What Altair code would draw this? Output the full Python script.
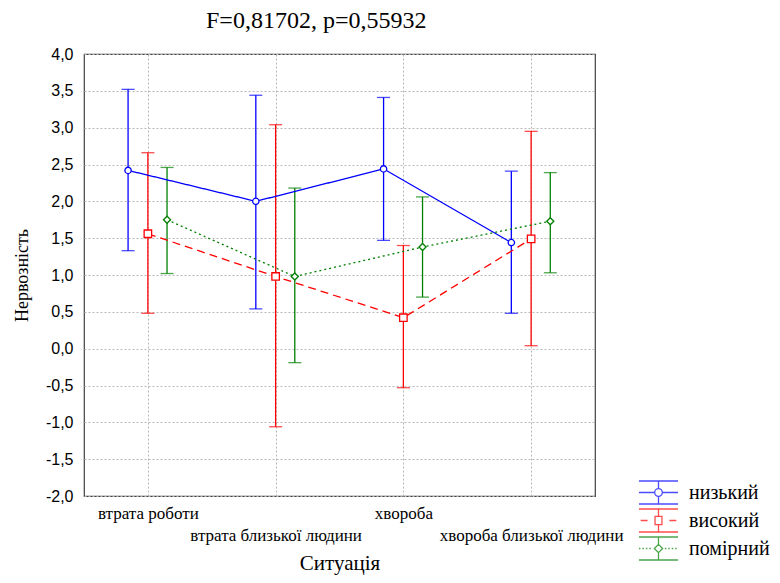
import altair as alt
import pandas as pd

# ---- data ----
categories = ["втрата роботи", "втрата близької людини", "хвороба", "хвороба близької людини"]
groups = ["низький", "високий", "помірний"]

mean_low = [2.42, 2.00, 2.44, 1.44]
mean_high = [1.56, 0.98, 0.42, 1.49]
mean_mid = [1.75, 0.98, 1.38, 1.73]

upper_low = [3.52, 3.44, 3.41, 2.41]
upper_high = [2.66, 3.04, 1.40, 2.95]
upper_mid = [2.46, 2.18, 2.06, 2.39]

lower_low = [1.33, 0.54, 1.47, 0.48]
lower_high = [0.48, -1.06, -0.53, 0.04]
lower_mid = [1.02, -0.19, 0.70, 1.03]

y_ticks = [-2.0, -1.5, -1.0, -0.5, 0.0, 0.5, 1.0, 1.5, 2.0, 2.5, 3.0, 3.5, 4.0]
title_text = "F=0,81702, p=0,55932"

# ---- styling ----
colors = ["#0000ff", "#ff0000", "#008000"]
dashes = [[1, 0], [8, 5], [2, 3]]
point_shapes = ["circle", "square", "diamond"]
point_sizes = [40, 56, 50]
offsets = {"низький": -0.155, "високий": 0.0, "помірний": 0.15}

means = [mean_low, mean_high, mean_mid]
uppers = [upper_low, upper_high, upper_mid]
lowers = [lower_low, lower_high, lower_mid]

rows = []
for gi, g in enumerate(groups):
    for ci, c in enumerate(categories):
        rows.append({"grp": g, "cat": c, "idx": ci, "xpos": ci + offsets[g],
                     "mean": means[gi][ci], "lo": lowers[gi][ci], "hi": uppers[gi][ci]})
df = pd.DataFrame(rows)

# legend glyphs (errorbar-like symbols)
bars = "M-1.7,-1L1.7,-1M-1.7,1L1.7,1"
glyph_low = (bars + "M0,-1L0,-0.33M0,0.33L0,1M-1.7,0L-0.33,0M0.33,0L1.7,0"
             "M0.33,0A0.33,0.33,0,1,1,-0.33,0A0.33,0.33,0,1,1,0.33,0Z")
glyph_high = (bars + "M0,-1L0,-0.36M0,0.36L0,1M-1.55,0L-0.95,0M0.95,0L1.55,0"
              "M-0.3,-0.36L0.3,-0.36L0.3,0.36L-0.3,0.36Z")
dots = "".join(f"M{x:.2f},0L{x + 0.13:.2f},0" for x in [-1.7, -1.4, -1.1, -0.8, 0.55, 0.85, 1.15, 1.45])
glyph_mid = (bars + "M0,-1L0,-0.36M0,0.36L0,1" + dots +
             "M0,-0.36L0.36,0L0,0.36L-0.36,0Z")

color_scale = alt.Scale(domain=groups, range=colors)

x_axis = alt.Axis(
    values=[0, 1, 2, 3], tickCount=4,
    labelExpr="datum.value % 2 == 1 ? ['', " + str(categories) + "[datum.value]] : " + str(categories) + "[datum.value]",
    title="Ситуація",
    grid=True, ticks=False, domain=False,
    labelOverlap=False, labelFlush=False, labelBound=False, labelLimit=400,
    labelFont="Liberation Serif", labelFontSize=17, labelLineHeight=22,
    labelPadding=9, labelColor="#000000", labelBaseline="top",
    titleFont="Liberation Serif", titleFontSize=21, titleFontWeight="normal",
    titleColor="#000000", titlePadding=9,
)
x_scale = alt.Scale(domain=[-0.5, 3.5], nice=False, zero=False)

y_axis = alt.Axis(
    values=y_ticks, tickCount=13,
    labelExpr="replace(replace(format(datum.value, '.1f'), '.', ','), '\u2212', '-')",
    title="Нервозність",
    grid=True, ticks=False, domain=False, labelOverlap=False,
    labelFont="Liberation Sans", labelFontSize=16, labelColor="#000000", labelPadding=11,
    titleFont="Liberation Serif", titleFontSize=18, titleFontWeight="normal",
    titleColor="#000000", titlePadding=14,
)
y_scale = alt.Scale(domain=[-2, 4], nice=False, zero=False)

legend_def = alt.Legend(
    title=None, orient="none", legendX=562, legendY=426, padding=0,
    symbolSize=529, symbolStrokeWidth=1.3, symbolFillColor="transparent",
    rowPadding=-1, labelOffset=18,
    labelFont="Liberation Serif", labelFontSize=20, labelColor="#000000",
    labelLimit=200,
)

base = alt.Chart(df)

rules = base.mark_rule(strokeWidth=1.3).encode(
    x=alt.X("xpos:Q", scale=x_scale, axis=x_axis),
    y=alt.Y("lo:Q", scale=y_scale, axis=y_axis),
    y2="hi:Q",
    color=alt.Color("grp:N", scale=color_scale, legend=None),
)

caps = base.transform_fold(["lo", "hi"], as_=["k", "v"]).mark_tick(
    orient="horizontal", size=13, thickness=1.3
).encode(
    x=alt.X("xpos:Q", scale=x_scale, axis=x_axis),
    y=alt.Y("v:Q", scale=y_scale, axis=y_axis),
    color=alt.Color("grp:N", scale=color_scale, legend=None),
)

lines = base.mark_line(strokeWidth=1.3).encode(
    x=alt.X("xpos:Q", scale=x_scale, axis=x_axis),
    y=alt.Y("mean:Q", scale=y_scale, axis=y_axis),
    color=alt.Color("grp:N", scale=color_scale, legend=None),
    strokeDash=alt.StrokeDash("grp:N", scale=alt.Scale(domain=groups, range=dashes), legend=None),
    order="idx:Q",
)

point_layers = []
for gi, g in enumerate(groups):
    point_layers.append(
        base.transform_filter(alt.datum.grp == g).mark_point(
            shape=point_shapes[gi], filled=True, fill="white", stroke=colors[gi],
            strokeWidth=1.3, size=point_sizes[gi], opacity=1
        ).encode(
            x=alt.X("xpos:Q", scale=x_scale, axis=x_axis),
            y=alt.Y("mean:Q", scale=y_scale, axis=y_axis),
        )
    )

plot_layers = alt.layer(rules, caps, lines, *point_layers)

legend_layer = base.transform_filter("false").mark_point(filled=False, strokeWidth=1.3).encode(
    x=alt.X("xpos:Q", scale=x_scale, axis=x_axis),
    y=alt.Y("mean:Q", scale=y_scale, axis=y_axis),
    color=alt.Color("grp:N", scale=color_scale, legend=legend_def),
    shape=alt.Shape("grp:N", scale=alt.Scale(domain=groups, range=[glyph_low, glyph_high, glyph_mid]),
                    legend=legend_def),
)

chart = alt.layer(plot_layers, legend_layer).resolve_scale(
    color="independent", shape="independent", strokeDash="independent"
).resolve_legend(
    color="independent", shape="independent"
).properties(
    width=511,
    height=442,
    title=alt.TitleParams(
        title_text, font="Liberation Serif", fontSize=24, fontWeight="normal",
        color="#000000", anchor="start", frame="group", dx=122, offset=13,
    ),
    autosize=alt.AutoSizeParams(type="none"),
    padding={"left": 76, "top": 46, "right": 177, "bottom": 79},
).configure(
    background="white", font="Liberation Serif",
    style={"guide-label": {"font": "Liberation Serif"}},
).configure_view(
    stroke="#404040", strokeWidth=1.2
).configure_axis(
    gridColor="#b8b8b8", gridDash=[2, 2], gridWidth=1
).configure_legend(
    labelFont="Liberation Serif", labelFontSize=20, labelColor="#000000"
)

chart.save("out.html", embed_options={"renderer": "svg", "actions": False})
